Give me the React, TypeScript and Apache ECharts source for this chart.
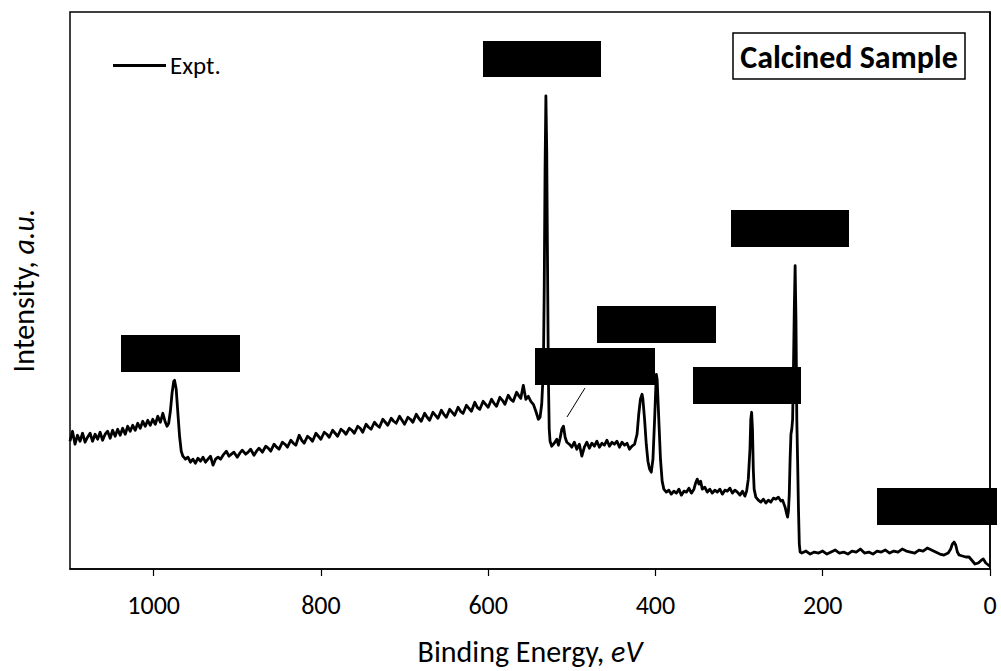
import React, { useEffect, useRef } from "react";
import * as echarts from "echarts";

// Binding energy (eV), intensity (a.u.) pairs
const region1100to960: [number, number][] = [
  [1100, 128], [1097, 138], [1094, 125], [1091, 134], [1088, 128], [1085, 136], [1082, 127], [1079, 132],
  [1076, 136], [1073, 128], [1070, 135], [1067, 130], [1064, 137], [1061, 129], [1058, 135], [1055, 138],
  [1052, 131], [1049, 139], [1046, 133], [1043, 140], [1040, 134], [1037, 141], [1034, 135], [1031, 143],
  [1028, 138], [1025, 144], [1022, 139], [1019, 146], [1016, 141], [1013, 148], [1010, 143], [1007, 149],
  [1004, 144], [1001, 150], [998, 145], [995, 153], [992, 147], [989, 156], [986, 147], [984, 143],
  [982, 146], [980, 158], [978, 176], [976, 188], [975, 189], [973, 180], [971, 156], [969, 133],
  [967, 118], [965, 113], [962, 110],
];

const region960to540: [number, number][] = [
  [959, 112], [956, 107], [953, 110], [950, 106], [947, 111], [944, 108], [941, 112], [938, 107],
  [935, 110], [932, 113], [929, 104], [926, 110], [923, 112], [920, 110], [917, 114], [913, 118],
  [910, 113], [907, 115], [904, 117], [900, 112], [897, 116], [894, 119], [890, 115], [887, 117],
  [884, 120], [880, 114], [877, 118], [874, 121], [870, 117], [866, 123], [863, 121], [860, 118],
  [856, 125], [853, 122], [850, 120], [846, 127], [843, 125], [840, 122], [836, 129], [833, 126],
  [830, 124], [826, 134], [823, 129], [820, 126], [816, 133], [813, 131], [810, 128], [806, 136],
  [803, 133], [800, 130], [796, 137], [793, 135], [790, 132], [786, 139], [783, 136], [780, 133],
  [776, 140], [773, 138], [770, 135], [766, 141], [763, 139], [760, 136], [756, 143], [753, 141],
  [750, 137], [746, 145], [743, 142], [740, 140], [736, 147], [733, 144], [730, 142], [726, 150],
  [723, 147], [720, 144], [716, 151], [713, 148], [710, 146], [706, 153], [703, 149], [700, 145],
  [696, 152], [693, 150], [690, 147], [686, 155], [683, 151], [680, 148], [676, 156], [673, 152],
  [670, 149], [666, 157], [663, 154], [660, 151], [656, 159], [653, 155], [650, 152], [646, 160],
  [643, 157], [640, 154], [636, 162], [633, 158], [630, 156], [626, 164], [623, 161], [620, 158],
  [616, 167], [613, 162], [610, 160], [606, 168], [603, 165], [600, 162], [596, 170], [593, 166],
  [590, 163], [586, 172], [583, 169], [580, 165], [576, 174], [573, 170], [570, 168], [566, 177],
  [563, 173], [561, 171], [558, 184], [555, 170], [552, 173], [549, 168], [546, 165], [543, 158],
  [540, 150],
];

const regionO1s: [number, number][] = [
  [538, 152], [536, 165], [534, 200], [533, 280], [532, 400], [531, 474], [530, 420], [529, 300],
  [528, 190], [527, 140], [526, 128], [524, 123], [521, 126], [518, 130], [516, 124], [514, 131],
  [512, 140], [510, 143], [508, 132], [506, 127], [503, 125], [500, 122], [497, 127], [494, 120],
  [491, 125], [488, 113], [485, 122], [482, 127], [479, 121], [476, 126], [473, 123], [470, 128],
  [467, 122], [464, 126], [461, 124], [458, 129], [455, 123], [452, 127], [449, 125], [446, 128],
  [443, 122], [440, 127], [437, 124], [434, 126], [431, 120], [428, 123], [425, 125],
];

const regionN1s: [number, number][] = [
  [422, 135], [420, 155], [418, 170], [416, 175], [415, 170], [413, 150], [411, 125], [409, 108],
  [407, 100], [405, 97], [403, 110], [401, 150], [399, 195], [398, 190], [396, 150], [394, 110],
  [392, 88], [390, 80], [387, 77], [384, 79], [381, 75], [378, 78], [375, 76], [372, 80],
  [369, 74], [366, 78], [363, 77], [360, 81], [357, 76], [354, 80], [352, 86], [350, 90],
  [348, 85], [346, 88], [344, 80], [341, 82], [338, 77], [335, 80], [332, 76], [329, 79],
  [326, 77], [323, 80], [320, 75], [317, 79], [314, 78], [311, 81], [308, 76], [305, 79],
  [302, 77], [299, 74], [296, 78], [293, 73], [291, 78],
];

const regionC1sMo3d: [number, number][] = [
  [289, 90], [287, 120], [286, 150], [285, 157], [284, 140], [283, 100], [282, 80], [280, 72],
  [277, 69], [274, 67], [271, 70], [268, 66], [265, 69], [262, 67], [259, 71], [256, 70],
  [253, 72], [250, 68], [248, 69], [245, 62], [243, 55], [242, 52], [241, 58], [240, 75],
  [239, 110], [238, 135], [237, 140], [236, 150], [235, 200], [234, 260], [233, 304], [232, 250],
  [231, 150], [230, 107], [229, 60], [228, 25], [227, 17],
];

const regionLowEnergy: [number, number][] = [
  [225, 16], [220, 18], [215, 15], [210, 17], [205, 16], [200, 18], [195, 15], [190, 17],
  [185, 19], [180, 16], [175, 17], [170, 15], [165, 18], [160, 17], [155, 20], [150, 16],
  [145, 17], [140, 15], [135, 18], [130, 17], [125, 19], [120, 16], [115, 18], [110, 17],
  [105, 20], [100, 18], [95, 17], [90, 16], [85, 19], [80, 18], [75, 21], [70, 19],
  [65, 17], [60, 15], [55, 14], [50, 16], [47, 20], [45, 25], [43, 27], [41, 24],
  [39, 17], [37, 14], [33, 13], [29, 12], [25, 12], [22, 9], [18, 5], [14, 6],
  [10, 9], [8, 10], [5, 6], [2, 4], [0, 3],
];

const xTickValues = [0, 200, 400, 600, 800, 1000];
const seriesName = "Expt.";
const panelTitle = "Calcined Sample";

const FONT = "Carlito, Lato, 'Open Sans', sans-serif";

export default function App() {
  const ref = useRef<HTMLDivElement>(null);

  useEffect(() => {
    if (!ref.current) return;
    const chart = echarts.init(ref.current, undefined, { renderer: "svg" });
    const data = [
      ...region1100to960,
      ...region960to540,
      ...regionO1s,
      ...regionN1s,
      ...regionC1sMo3d,
      ...regionLowEnergy,
    ];
    const redactions = [
      [121, 335, 119, 37],
      [483, 41, 118, 36],
      [731, 210, 118, 37],
      [597, 306, 119, 37],
      [535, 348, 120, 37],
      [693, 367, 108, 37],
      [877, 488, 120, 37],
    ];
    chart.setOption({
      animation: false,
      textStyle: { fontFamily: FONT },
      grid: {
        left: 69,
        right: 11,
        top: 12,
        bottom: 101,
        show: true,
        borderColor: "#000",
        borderWidth: 1.5,
        backgroundColor: "transparent",
      },
      legend: {
        left: 113,
        top: 53,
        padding: 0,
        itemWidth: 53,
        itemHeight: 3,
        data: [{ name: seriesName, icon: "rect" }],
        itemStyle: { color: "#000" },
        textStyle: { fontSize: 25, color: "#000", fontFamily: FONT, padding: [0, 0, 0, -1] },
      },
      xAxis: {
        type: "value",
        inverse: true,
        min: 0,
        max: 1100,
        axisLine: { show: true, lineStyle: { color: "#000", width: 1.5 } },
        axisTick: {
          show: true,
          inside: false,
          length: 7,
          lineStyle: { color: "#000", width: 1.2 },
          customValues: xTickValues,
        },
        axisLabel: {
          customValues: xTickValues,
          formatter: (v: number) => String(v),
          fontSize: 26,
          color: "#000",
          margin: 23,
          fontFamily: FONT,
        },
        splitLine: { show: false },
        name: "Binding Energy, {i|eV}",
        nameLocation: "middle",
        nameGap: 67,
        nameTextStyle: {
          fontSize: 30,
          color: "#000",
          fontFamily: FONT,
          rich: { i: { fontSize: 30, fontStyle: "italic", color: "#000", fontFamily: FONT } },
        },
      },
      yAxis: {
        type: "value",
        min: 0,
        max: 558,
        axisLine: { show: true, lineStyle: { color: "#000", width: 1.5 } },
        axisTick: { show: false },
        axisLabel: { show: false },
        splitLine: { show: false },
        name: "Intensity, {i|a.u.}",
        nameLocation: "middle",
        nameGap: 32,
        nameTextStyle: {
          fontSize: 30,
          color: "#000",
          fontFamily: FONT,
          rich: { i: { fontSize: 30, fontStyle: "italic", color: "#000", fontFamily: FONT } },
        },
      },
      series: [
        {
          name: seriesName,
          type: "line",
          data,
          symbol: "none",
          showSymbol: false,
          lineStyle: { color: "#000", width: 2.8, join: "round" },
          itemStyle: { color: "#000" },
          z: 2,
        },
      ],
      graphic: [
        ...redactions.map(([x, y, w, h]) => ({
          type: "rect",
          shape: { x, y, width: w, height: h },
          style: { fill: "#000" },
          z: 100,
        })),
        {
          type: "line",
          shape: { x1: 585, y1: 388, x2: 567, y2: 417 },
          style: { stroke: "#000", lineWidth: 1 },
          z: 100,
        },
        {
          type: "rect",
          shape: { x: 733, y: 33, width: 232, height: 46 },
          style: { fill: "#fff", stroke: "#000", lineWidth: 1.5 },
          z: 100,
        },
        {
          type: "text",
          x: 849,
          y: 57,
          style: {
            text: panelTitle,
            fontSize: 32,
            fontWeight: "bold",
            fill: "#000",
            fontFamily: FONT,
            textAlign: "center",
            textVerticalAlign: "middle",
          },
          z: 101,
        },
      ],
    });
    return () => chart.dispose();
  }, []);

  return <div ref={ref} style={{ width: 1001, height: 671, position: "absolute", left: 0, top: 0 }} />;
}
